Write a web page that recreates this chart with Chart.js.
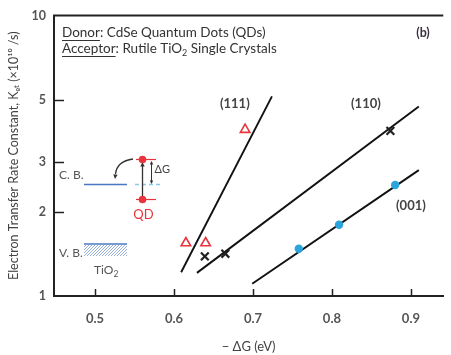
<!DOCTYPE html>
<html>
<head>
<meta charset="utf-8">
<script src="https://cdn.jsdelivr.net/npm/chart.js@4.4.1/dist/chart.umd.min.js"></script>
<style>
  html, body { margin: 0; padding: 0; background: #fff; }
  #wrap { width: 451px; height: 355px; }
</style>
</head>
<body>
<div id="wrap"><canvas id="myChart"></canvas></div>
<script>
// tick labels
const xTicks = [0.5, 0.6, 0.7, 0.8, 0.9];
const yTicks = [1, 2, 3, 5, 10];

// measured points (-dG in eV, ket in 1e10/s)
const tri111X = [0.615, 0.640, 0.690];
const tri111Y = [1.545, 1.545, 3.92];
const x110X = [0.639, 0.665, 0.874];
const x110Y = [1.384, 1.415, 3.88];
const dot001X = [0.758, 0.809, 0.880];
const dot001Y = [1.474, 1.794, 2.487];

// fitted lines, end points
const fit111X = [0.609, 0.724];
const fit111Y = [1.215, 5.15];
const fit110X = [0.629, 0.910];
const fit110Y = [1.209, 4.74];
const fit001X = [0.699, 0.910];
const fit001Y = [1.105, 2.81];

// facet labels
const facetNames = ['(111)', '(110)', '(001)'];
const facetLabelX = [0.677, 0.843, 0.900];
const facetLabelY = [4.85, 4.85, 2.10];

const pts = (xs, ys) => xs.map((v, i) => ({ x: v, y: ys[i] }));

const RED = '#e8343c';
const BLUE = '#2ba3db';
const FONT = 'Lato, "Open Sans", sans-serif';

function underlined(ctx, txt, x, y) {
  ctx.fillText(txt, x, y);
  const w = ctx.measureText(txt).width;
  ctx.fillRect(x, y + 7, w, 1);
  return w;
}

function arrowHead(ctx, x, y, ang, size) {
  ctx.beginPath();
  ctx.moveTo(x, y);
  ctx.lineTo(x - size * Math.cos(ang - 0.45), y - size * Math.sin(ang - 0.45));
  ctx.lineTo(x - size * Math.cos(ang + 0.45), y - size * Math.sin(ang + 0.45));
  ctx.closePath();
  ctx.fill();
}

const decor = {
  id: 'decor',
  afterDraw(chart) {
    const { ctx, chartArea: a, scales: { x, y } } = chart;
    ctx.save();

    // top frame line
    ctx.strokeStyle = '#222';
    ctx.lineWidth = 2;
    ctx.beginPath();
    ctx.moveTo(a.left - 1, a.top);
    ctx.lineTo(a.right, a.top);
    ctx.stroke();

    // inward tick marks
    ctx.lineWidth = 1.5;
    yTicks.slice(1, -1).forEach(v => {
      const py = Math.round(y.getPixelForValue(v)) + 0.5;
      ctx.beginPath(); ctx.moveTo(a.left, py); ctx.lineTo(a.left + 10, py); ctx.stroke();
    });
    xTicks.forEach(v => {
      const px = Math.round(x.getPixelForValue(v)) + 0.5;
      ctx.beginPath(); ctx.moveTo(px, a.bottom); ctx.lineTo(px, a.bottom - 7); ctx.stroke();
    });

    // header text
    const hf = '13.5px ' + FONT;
    ctx.fillStyle = '#333';
    ctx.font = hf;
    ctx.textBaseline = 'middle';
    ctx.textAlign = 'left';
    let w = underlined(ctx, 'Donor', 62, 33);
    ctx.fillText(': CdSe Quantum Dots (QDs)', 62 + w, 33);
    w = underlined(ctx, 'Acceptor', 62, 49);
    const s1 = ': Rutile TiO';
    ctx.fillText(s1, 62 + w, 49);
    w += ctx.measureText(s1).width;
    ctx.font = '9px ' + FONT;
    ctx.fillText('2', 62 + w, 53);
    w += ctx.measureText('2').width;
    ctx.font = hf;
    ctx.fillText(' Single Crystals', 62 + w, 49);
    ctx.textAlign = 'center';
    ctx.font = 'bold 12.5px ' + FONT;
    ctx.fillStyle = '#3a3040';
    ctx.fillText('(b)', 423, 33);

    // facet labels
    ctx.fillStyle = '#444';
    ctx.font = 'bold 13px ' + FONT;
    facetNames.forEach((t, i) => {
      ctx.fillText(t, x.getPixelForValue(facetLabelX[i]), y.getPixelForValue(facetLabelY[i]));
    });

    // band diagram inset
    ctx.font = '12px ' + FONT;
    ctx.fillStyle = '#555';
    ctx.textAlign = 'left';
    ctx.fillText('C. B.', 59, 175);
    ctx.fillText('V. B.', 59, 253);
    ctx.fillText('TiO', 94, 270);
    const tw = ctx.measureText('TiO').width;
    ctx.font = '8.5px ' + FONT;
    ctx.fillText('2', 94 + tw, 274);

    ctx.strokeStyle = '#4a78c0';
    ctx.lineWidth = 1.5;
    ctx.beginPath(); ctx.moveTo(84, 184.5); ctx.lineTo(127, 184.5); ctx.stroke();
    ctx.beginPath(); ctx.moveTo(84, 244); ctx.lineTo(127, 244); ctx.stroke();
    // hatching under V.B.
    ctx.save();
    ctx.beginPath(); ctx.rect(84, 244, 43, 12); ctx.clip();
    ctx.strokeStyle = '#7a9bd0';
    ctx.lineWidth = 0.8;
    for (let hx = 70; hx < 140; hx += 3) {
      ctx.beginPath(); ctx.moveTo(hx, 258); ctx.lineTo(hx + 14, 244); ctx.stroke();
    }
    ctx.restore();
    // dashed C.B. level at QD
    ctx.strokeStyle = '#8cc8e8';
    ctx.setLineDash([4, 3]);
    ctx.beginPath(); ctx.moveTo(135, 184.5); ctx.lineTo(162, 184.5); ctx.stroke();
    ctx.setLineDash([]);

    // QD levels
    ctx.strokeStyle = RED;
    ctx.lineWidth = 1.2;
    ctx.beginPath(); ctx.moveTo(136, 159.5); ctx.lineTo(156, 159.5); ctx.stroke();
    ctx.beginPath(); ctx.moveTo(136, 199.5); ctx.lineTo(156, 199.5); ctx.stroke();
    // excitation arrow
    ctx.strokeStyle = '#333';
    ctx.fillStyle = '#333';
    ctx.lineWidth = 1.3;
    ctx.beginPath(); ctx.moveTo(142.5, 199); ctx.lineTo(142.5, 166); ctx.stroke();
    arrowHead(ctx, 142.5, 162, -Math.PI / 2, 5);
    // dG double arrow
    ctx.lineWidth = 1;
    ctx.beginPath(); ctx.moveTo(151.5, 164); ctx.lineTo(151.5, 181); ctx.stroke();
    arrowHead(ctx, 151.5, 161, -Math.PI / 2, 4);
    arrowHead(ctx, 151.5, 184, Math.PI / 2, 4);
    // injection curved arrow
    ctx.lineWidth = 1.3;
    ctx.beginPath(); ctx.moveTo(133, 159); ctx.quadraticCurveTo(117, 161, 115.5, 174); ctx.stroke();
    arrowHead(ctx, 115, 179, Math.PI / 2 + 0.1, 5);
    // red dots
    ctx.fillStyle = RED;
    [159.5, 199.5].forEach(py => {
      ctx.beginPath(); ctx.arc(142.5, py, 3.8, 0, Math.PI * 2); ctx.fill();
    });
    ctx.font = '13px ' + FONT;
    ctx.textAlign = 'center';
    ctx.fillText('QD', 143.5, 215);
    ctx.fillStyle = '#444';
    ctx.font = '11px ' + FONT;
    ctx.textAlign = 'left';
    ctx.fillText('ΔG', 154.5, 169);

    ctx.restore();
  }
};

const lineStyle = {
  showLine: true,
  borderColor: '#111',
  borderWidth: 1.9,
  pointRadius: 0,
  fill: false
};

new Chart(document.getElementById('myChart'), {
  type: 'scatter',
  data: {
    datasets: [
      {
        label: '(111) data',
        data: pts(tri111X, tri111Y),
        pointStyle: 'triangle',
        pointRadius: 5.5,
        borderColor: RED,
        backgroundColor: 'rgba(0,0,0,0)',
        borderWidth: 1.6
      },
      {
        label: '(110) data',
        data: pts(x110X, x110Y),
        pointStyle: 'crossRot',
        pointRadius: 5.5,
        borderColor: '#222',
        borderWidth: 2.2
      },
      {
        label: '(001) data',
        data: pts(dot001X, dot001Y),
        pointStyle: 'circle',
        pointRadius: 4.2,
        borderWidth: 0,
        backgroundColor: BLUE
      },
      { label: '(111) fit', data: pts(fit111X, fit111Y), ...lineStyle },
      { label: '(110) fit', data: pts(fit110X, fit110Y), ...lineStyle },
      { label: '(001) fit', data: pts(fit001X, fit001Y), ...lineStyle }
    ]
  },
  options: {
    responsive: true,
    maintainAspectRatio: false,
    animation: false,
    layout: { padding: { top: 15, right: 0, left: 0, bottom: 0 } },
    plugins: {
      legend: { display: false },
      tooltip: { enabled: false }
    },
    scales: {
      x: {
        type: 'linear',
        min: 0.448,
        max: 0.941,
        afterBuildTicks: s => { s.ticks = xTicks.map(v => ({ value: v })); },
        afterFit: s => { s.height = 59; },
        grid: { display: false, drawTicks: false },
        border: { display: true, color: '#222', width: 2 },
        ticks: {
          padding: 15,
          color: '#555',
          font: { family: FONT, size: 13, weight: 'bold' },
          callback: v => v.toFixed(1)
        },
        title: {
          display: true,
          text: '− ΔG (eV)',
          color: '#444',
          font: { family: FONT, size: 13 },
          padding: { top: 0, bottom: 0 }
        }
      },
      y: {
        type: 'logarithmic',
        min: 1,
        max: 10,
        afterBuildTicks: s => { s.ticks = yTicks.map(v => ({ value: v })); },
        afterFit: s => { s.width = 54; },
        grid: { display: false, drawTicks: false },
        border: { display: true, color: '#222', width: 2 },
        ticks: {
          padding: 8,
          color: '#555',
          font: { family: FONT, size: 12.5, weight: 'bold' },
          callback: v => String(v)
        },
        title: {
          display: true,
          text: 'Electron Transfer Rate Constant, Kₑₜ (×10¹⁰ /s)',
          color: '#444',
          font: { family: FONT, size: 12.5 },
          padding: { top: 6, bottom: 0 }
        }
      }
    }
  },
  plugins: [decor]
});
</script>
</body>
</html>
